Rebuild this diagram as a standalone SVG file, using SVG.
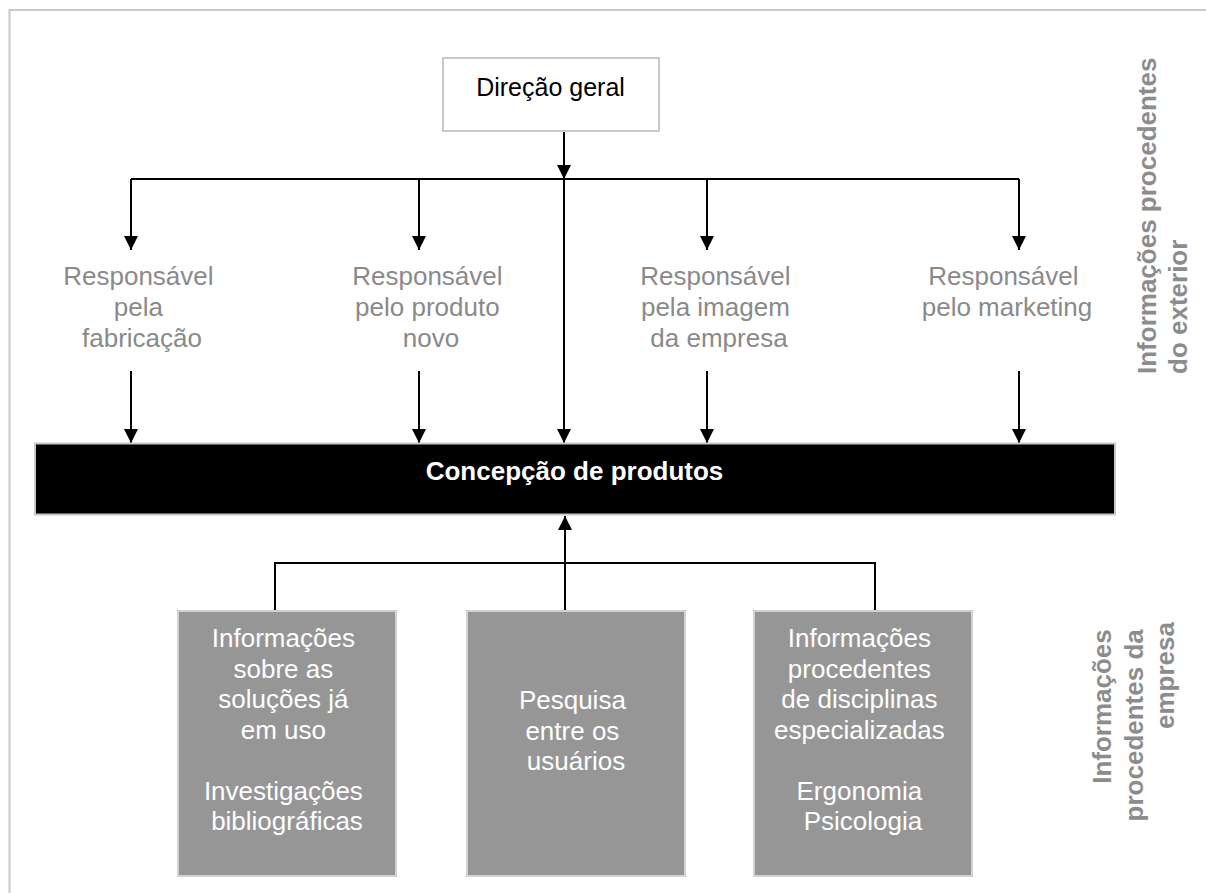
<svg xmlns="http://www.w3.org/2000/svg" width="1206" height="893" viewBox="0 0 1206 893">
  <defs>
    <marker id="arrow" viewBox="0 0 14 14" refX="14" refY="7" markerWidth="14" markerHeight="14" markerUnits="userSpaceOnUse" orient="auto">
      <path d="M0,0 L14,7 L0,14 Z" fill="#000"/>
    </marker>
    <style>
      .frame { fill: none; stroke: #c8c8c8; stroke-width: 2; }
      .box-white { fill: #fff; stroke: #c8c8c8; stroke-width: 2; }
      .box-black { fill: #000; stroke: #c8c8c8; stroke-width: 2; }
      .box-grey { fill: #969696; stroke: #d2d2d2; stroke-width: 2; }
      .wire { fill: none; stroke: #000; stroke-width: 2; }
      .arrow { fill: none; stroke: #000; stroke-width: 2; marker-end: url(#arrow); }
      text { font-family: "Liberation Sans", Arial, sans-serif; }
      .title { font-size: 25px; fill: #000; text-anchor: middle; }
      .main { font-size: 26px; font-weight: bold; fill: #fff; text-anchor: middle; }
      .role { font-size: 26px; fill: #8a8a8a; text-anchor: middle; }
      .source { font-size: 26px; fill: #fff; text-anchor: middle; }
      .side { font-size: 26px; font-weight: bold; fill: #8c8c8c; }
    </style>
  </defs>

  <rect width="1206" height="893" fill="#fff"/>
  <path class="frame" d="M9.5,893 V10 H1206"/>

  <!-- connectors -->
  <g id="connectors">
    <line class="arrow" x1="564" y1="131" x2="564" y2="179"/>
    <line class="wire" x1="131" y1="179" x2="1019" y2="179"/>
    <line class="arrow" x1="131" y1="179" x2="131" y2="250"/>
    <line class="arrow" x1="419" y1="179" x2="419" y2="250"/>
    <line class="arrow" x1="707" y1="179" x2="707" y2="250"/>
    <line class="arrow" x1="1019" y1="179" x2="1019" y2="250"/>
    <line class="arrow" x1="564" y1="179" x2="564" y2="443"/>
    <line class="arrow" x1="131" y1="371" x2="131" y2="443"/>
    <line class="arrow" x1="419" y1="371" x2="419" y2="443"/>
    <line class="arrow" x1="707" y1="371" x2="707" y2="443"/>
    <line class="arrow" x1="1019" y1="371" x2="1019" y2="443"/>
    <path class="wire" d="M275,611 V563 H875 V611"/>
    <line class="arrow" x1="565" y1="611" x2="565" y2="516"/>
  </g>

  <g id="direcao-geral">
    <rect class="box-white" x="443" y="58" width="216" height="73"/>
    <text class="title" x="550.5" y="95.5">Direção geral</text>
  </g>

  <g id="resp-fabricacao">
    <text class="role">
      <tspan x="142" y="285">Responsável</tspan>
      <tspan x="142" y="316">pela</tspan>
      <tspan x="142" y="347">fabricação</tspan>
    </text>
  </g>

  <g id="resp-produto-novo">
    <text class="role">
      <tspan x="431" y="285">Responsável</tspan>
      <tspan x="431" y="316">pelo produto</tspan>
      <tspan x="431" y="347">novo</tspan>
    </text>
  </g>

  <g id="resp-imagem">
    <text class="role">
      <tspan x="719" y="285">Responsável</tspan>
      <tspan x="719" y="316">pela imagem</tspan>
      <tspan x="719" y="347">da empresa</tspan>
    </text>
  </g>

  <g id="resp-marketing">
    <text class="role">
      <tspan x="1007" y="285">Responsável</tspan>
      <tspan x="1007" y="316">pelo marketing</tspan>
    </text>
  </g>

  <g id="concepcao">
    <rect class="box-black" x="35" y="443.5" width="1080" height="71"/>
    <text class="main" x="574.5" y="479.5">Concepção de produtos</text>
  </g>

  <g id="solucoes-em-uso">
    <rect class="box-grey" x="178" y="611" width="218" height="265"/>
    <text class="source">
      <tspan x="287" y="647">Informações</tspan>
      <tspan x="287" y="677.5">sobre as</tspan>
      <tspan x="287" y="708">soluções já</tspan>
      <tspan x="287" y="738.5">em uso</tspan>
      <tspan x="287" y="799.5">Investigações</tspan>
      <tspan x="287" y="830">bibliográficas</tspan>
    </text>
  </g>

  <g id="pesquisa-usuarios">
    <rect class="box-grey" x="467" y="611" width="218" height="265"/>
    <text class="source">
      <tspan x="576" y="709">Pesquisa</tspan>
      <tspan x="576" y="739.5">entre os</tspan>
      <tspan x="576" y="770">usuários</tspan>
    </text>
  </g>

  <g id="disciplinas-especializadas">
    <rect class="box-grey" x="754" y="611" width="218" height="265"/>
    <text class="source">
      <tspan x="863" y="647">Informações</tspan>
      <tspan x="863" y="677.5">procedentes</tspan>
      <tspan x="863" y="708">de disciplinas</tspan>
      <tspan x="863" y="738.5">especializadas</tspan>
      <tspan x="863" y="799.5">Ergonomia</tspan>
      <tspan x="863" y="830">Psicologia</tspan>
    </text>
  </g>

  <g id="info-exterior">
    <text class="side" transform="translate(1156,374) rotate(-90)">
      <tspan x="0" y="0">Informações procedentes</tspan>
      <tspan x="0" y="31">do exterior</tspan>
    </text>
  </g>

  <g id="info-empresa">
    <text class="side" transform="translate(1111,622) rotate(-90)" text-anchor="end">
      <tspan x="0" y="0">Informações</tspan>
      <tspan x="0" y="31.5">procedentes da</tspan>
      <tspan x="0" y="63">empresa</tspan>
    </text>
  </g>
</svg>
